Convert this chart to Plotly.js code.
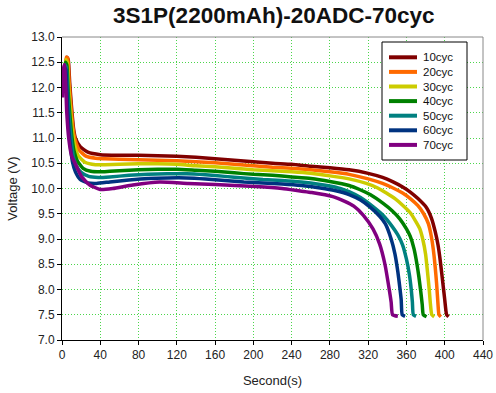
<!DOCTYPE html>
<html>
<head>
<meta charset="utf-8">
<script src="https://cdn.plot.ly/plotly-3.0.1.min.js"></script>
<style>html,body{margin:0;padding:0;background:#fff;}#chart{width:496px;height:393px;}</style>
</head>
<body>
<div id="chart"></div>
<script>
// Series names and colours
const seriesNames = ["10cyc","20cyc","30cyc","40cyc","50cyc","60cyc","70cyc"];
const seriesColors = ["#800000","#FF6A00","#CCCC00","#008000","#008080","#003380","#800080"];

// Time (s) and voltage (V)
const t10 = [4,5,6.5,8,10,12,14,19,27,40,60,80,100,120,140,160,180,200,220,240,260,280,300,320,335,346,356,364,372,381,386,390,393,395,397,398.5,400,402,404];
const v10 = [12.45,12.6,12.55,12.1,11.6,11.2,11.0,10.83,10.72,10.67,10.66,10.66,10.65,10.64,10.62,10.59,10.56,10.53,10.5,10.48,10.44,10.41,10.37,10.3,10.22,10.13,10.03,9.93,9.8,9.62,9.42,9.15,8.88,8.62,8.3,8.05,7.8,7.5,7.46];

const t20 = [3.5,4.5,6,7.5,9.5,11.5,13.5,18,25,35,45,60,80,100,120,140,160,180,200,220,240,260,280,300,320,335,346,356,364,372,378,383,386,388,390,391.5,393,394,396];
const v20 = [12.4,12.6,12.58,12.1,11.6,11.2,10.98,10.76,10.64,10.6,10.59,10.58,10.57,10.56,10.55,10.53,10.51,10.48,10.45,10.42,10.4,10.37,10.33,10.28,10.19,10.1,10.01,9.91,9.8,9.66,9.5,9.3,9.05,8.8,8.45,8.12,7.7,7.5,7.46];

const t30 = [3,4,5.5,7,9,11,13,17,24,35,45,60,80,100,120,140,160,180,200,220,240,260,280,300,318,330,339,348,356,364,370,374,377,380,382,383.8,385,386.5,389];
const v30 = [12.35,12.55,12.5,12.0,11.5,11.1,10.88,10.65,10.52,10.47,10.47,10.48,10.49,10.49,10.48,10.45,10.43,10.4,10.37,10.35,10.33,10.3,10.25,10.19,10.1,10.01,9.91,9.8,9.67,9.52,9.34,9.2,9.0,8.7,8.35,8.0,7.72,7.5,7.46];

const t40 = [2.5,3.5,5,6.5,8.5,10.5,12.5,16,22,30,40,50,60,80,100,120,140,160,180,200,220,240,260,280,300,311,322,336,345,353,360,364,368,371,373,375,376.5,377.6,381];
const v40 = [12.3,12.5,12.45,11.9,11.4,11.0,10.75,10.55,10.4,10.34,10.33,10.34,10.35,10.37,10.38,10.38,10.36,10.34,10.31,10.28,10.26,10.23,10.2,10.14,10.06,9.98,9.88,9.7,9.56,9.4,9.2,9.05,8.8,8.5,8.25,7.95,7.7,7.5,7.46];

const t50 = [2,3,4.5,6,8,10,12,15,20,28,38,50,70,90,110,130,150,170,190,210,230,250,270,285,300,312,325,336,345,351,356,360,363,365,366.2,367.2,370];
const v50 = [12.25,12.45,12.4,11.8,11.3,10.9,10.62,10.45,10.32,10.24,10.22,10.23,10.26,10.28,10.29,10.29,10.27,10.24,10.21,10.18,10.16,10.13,10.08,10.03,9.94,9.82,9.64,9.46,9.25,9.08,8.88,8.6,8.3,8.0,7.75,7.5,7.47];

const t60 = [1.5,2.5,4,5.5,7,9,11,14,19,27,36,50,70,90,110,130,150,170,190,210,230,250,270,285,300,312,322,332,338,344,348,351,353,354.5,355.6,358.5];
const v60 = [12.2,12.4,12.35,11.7,11.2,10.8,10.52,10.33,10.18,10.11,10.1,10.13,10.17,10.2,10.21,10.21,10.19,10.16,10.13,10.11,10.09,10.06,10.01,9.96,9.88,9.77,9.63,9.45,9.3,9.0,8.7,8.35,8.05,7.8,7.5,7.47];

const t70 = [0.5,1,2.5,4,5,7,10,13.6,20.6,29,40,53,74,102,132,160,202,230,249,261,283,295,305,315,325,332,337.5,342,344,345.5,351];
const v70 = [11.8,12.3,12.45,12.0,11.5,11.0,10.65,10.5,10.23,10.07,9.98,10.0,10.07,10.13,10.1,10.08,10.04,10.0,9.95,9.92,9.84,9.75,9.65,9.47,9.2,8.9,8.5,8.0,7.75,7.5,7.47];

const xTicks = [0,40,80,120,160,200,240,280,320,360,400,440];
const yTicks = [7.0,7.5,8.0,8.5,9.0,9.5,10.0,10.5,11.0,11.5,12.0,12.5,13.0];

const times = [t10,t20,t30,t40,t50,t60,t70];
const volts = [v10,v20,v30,v40,v50,v60,v70];

const traces = seriesNames.map((name,i)=>({
  type:'scatter', mode:'lines', name:name, showlegend:false,
  x:times[i], y:volts[i],
  line:{color:seriesColors[i], width:3.5, shape:'spline', smoothing:0.5}
}));

// Legend box drawn in paper space (plot area: 421 x 303 px)
const W = 421, H = 303, TOP = 37, LEFT = 62;
const px2x = p => (p - LEFT) / W;
const py2y = p => (TOP + H - p) / H;
const shapes = [
  {type:'line', xref:'paper', yref:'paper', x0:0, x1:1, y0:1, y1:1, line:{color:'#888', width:1}},
  {type:'line', xref:'paper', yref:'paper', x0:1, x1:1, y0:0, y1:1, line:{color:'#888', width:1}},
  {type:'rect', xref:'paper', yref:'paper', x0:px2x(382), x1:px2x(467), y0:py2y(160), y1:py2y(42),
   fillcolor:'#fff', line:{color:'#000', width:1}, layer:'above'}
];
const annotations = [];
seriesNames.forEach((name,i)=>{
  const yc = 57.3 + i*14.6;
  shapes.push({type:'line', xref:'paper', yref:'paper', x0:px2x(389), x1:px2x(417), y0:py2y(yc), y1:py2y(yc),
               line:{color:seriesColors[i], width:4}, layer:'above'});
  annotations.push({xref:'paper', yref:'paper', x:px2x(421), y:py2y(yc), xanchor:'left', yanchor:'middle',
                    text:name, showarrow:false, font:{family:"Arial, 'Liberation Sans', sans-serif", size:11.5, color:'#111'}});
});

const font = "Arial, 'Liberation Sans', sans-serif";
const layout = {
  width:496, height:393,
  margin:{l:62, r:13, t:37, b:53},
  paper_bgcolor:'#ffffff', plot_bgcolor:'#ffffff',
  font:{family:font, size:12, color:'#222'},
  title:{text:'<b>3S1P(2200mAh)-20ADC-70cyc</b>', font:{family:font, size:22.5, color:'#111'},
         x:0.552, xanchor:'center', y:0.962, yanchor:'middle'},
  showlegend:false,
  xaxis:{range:[0,440], tickvals:xTicks, ticktext:xTicks.map(String),
         showgrid:true, gridcolor:'#4cd64c', griddash:'1px,2px', gridwidth:1,
         zeroline:false, showline:true, linecolor:'#000', linewidth:1, mirror:false,
         ticks:'outside', ticklen:4, tickcolor:'#000', tickfont:{family:font, size:12, color:'#222'},
         title:{text:'Second(s)', font:{family:font, size:13, color:'#222'}, standoff:14}},
  yaxis:{range:[7,13], tickvals:yTicks, ticktext:yTicks.map(v=>v.toFixed(1)),
         showgrid:true, gridcolor:'#4cd64c', griddash:'1px,2px', gridwidth:1,
         zeroline:false, showline:true, linecolor:'#000', linewidth:1,
         ticks:'outside', ticklen:4, tickcolor:'#000', tickfont:{family:font, size:12, color:'#222'},
         title:{text:'Voltage (V)', font:{family:font, size:13, color:'#222'}, standoff:10}},
  shapes:shapes,
  annotations:annotations
};

Plotly.newPlot('chart', traces, layout, {displayModeBar:false, staticPlot:true});
</script>
</body>
</html>
